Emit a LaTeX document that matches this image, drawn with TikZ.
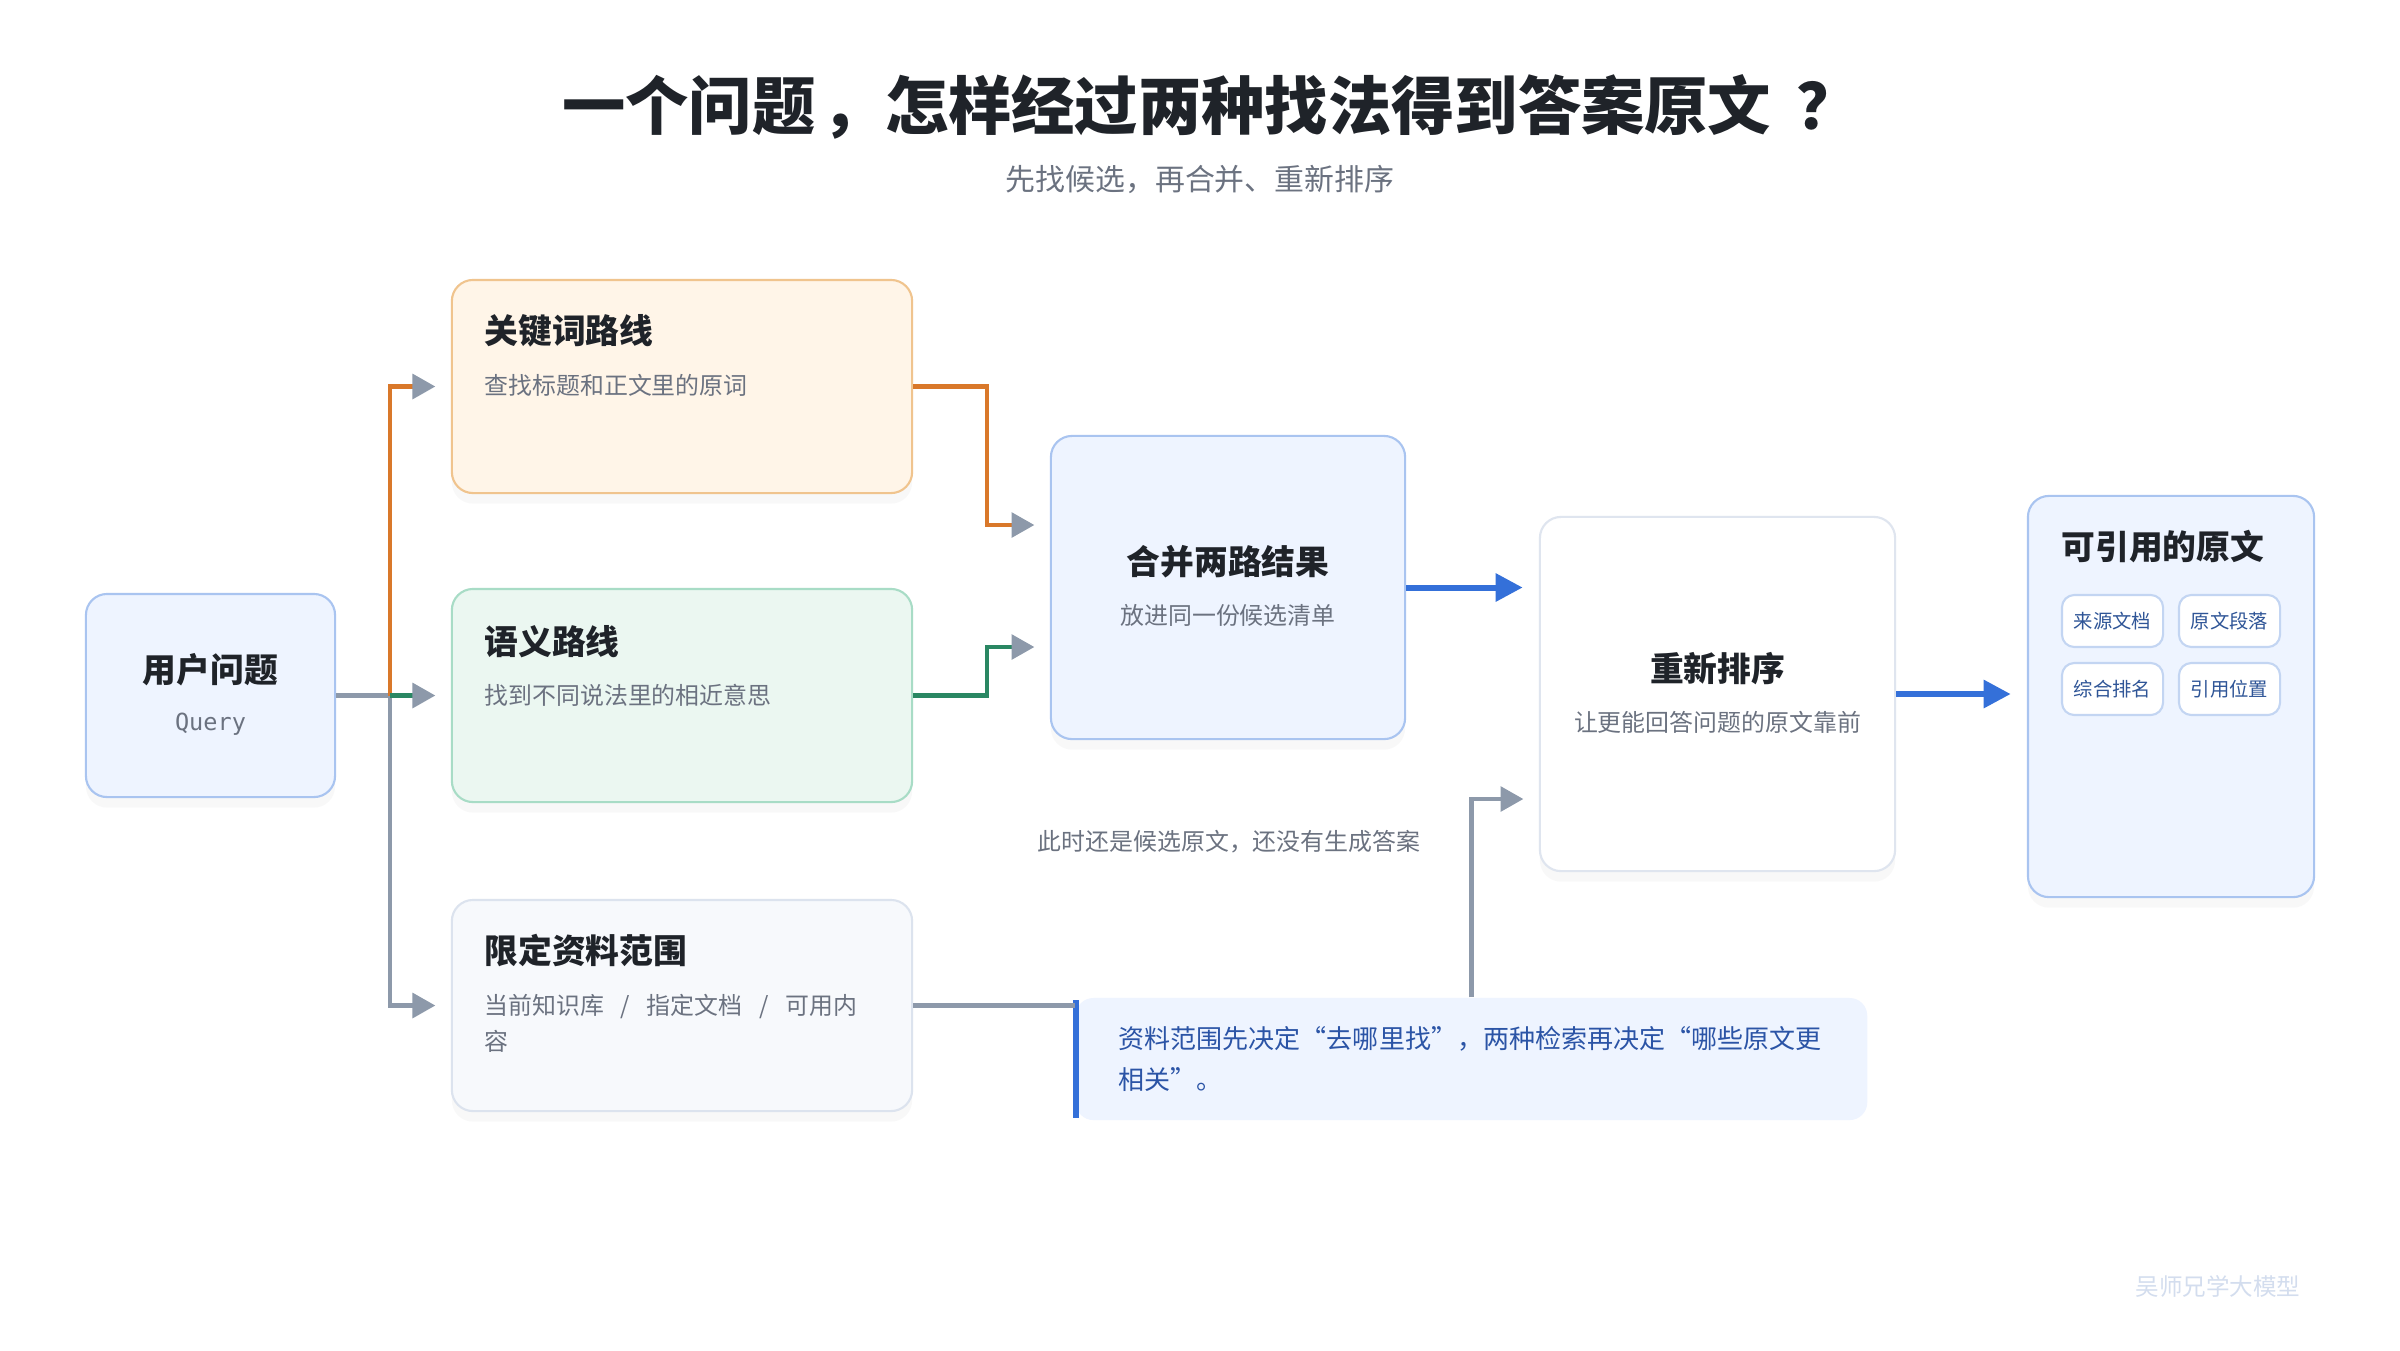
\documentclass[tikz,border=0pt]{standalone}
\usepackage{fontspec}
\setmainfont{Noto Sans CJK SC}
\newfontfamily\qmono{DejaVu Sans Mono}
\usetikzlibrary{arrows.meta,calc,positioning,shadows}
\definecolor{ink}{HTML}{1F2329}
\definecolor{muted}{HTML}{6B7280}
\definecolor{qfill}{HTML}{EEF4FF}
\definecolor{qline}{HTML}{A9C4F0}
\definecolor{kwfill}{HTML}{FFF5E8}
\definecolor{kwline}{HTML}{F0C48E}
\definecolor{semfill}{HTML}{EBF7F1}
\definecolor{semline}{HTML}{A8DCC6}
\definecolor{scfill}{HTML}{F7F9FC}
\definecolor{scline}{HTML}{DCE3EE}
\definecolor{rrline}{HTML}{DFE5EF}
\definecolor{kworange}{HTML}{D9782A}
\definecolor{semgreen}{HTML}{2A8763}
\definecolor{arrgray}{HTML}{8D99AA}
\definecolor{flowblue}{HTML}{3470D9}
\definecolor{chiptext}{HTML}{2F5597}
\definecolor{chipline}{HTML}{C3D5F2}
\definecolor{cotext}{HTML}{2B54A6}
\definecolor{wmark}{HTML}{D3DDEE}
\tikzset{card/.style={draw, line width=0.6pt, rounded corners=6pt, inner sep=0pt,
    drop shadow={shadow xshift=0pt, shadow yshift=-3pt, opacity=0.05}},
  ttl/.style={font=\fontsize{9.6}{12}\selectfont\bfseries, text=ink, inner sep=0pt},
  sub/.style={font=\fontsize{6.8}{10.2}\selectfont, text=muted, inner sep=0pt, align=left},
  pin/.style={-{Triangle[length=6.5pt, width=7pt, color=arrgray]}, line width=1.2pt, shorten >=4.4pt},
  bpin/.style={-{Triangle[length=7.7pt, width=7.7pt]}, draw=flowblue, line width=1.7pt, shorten >=4.6pt},
  chip/.style={draw=chipline, fill=white, line width=0.6pt, rounded corners=3.5pt, inner sep=0pt,
    minimum width=1.01cm, minimum height=0.52cm, text=chiptext, font=\fontsize{5.5}{7}\selectfont}}
\newcommand{\sep}{\hspace{0.7em}/\hspace{0.7em}}

\begin{document}
\begin{tikzpicture}[x=0.01cm, y=-0.01cm]
  \fill[white] (0,0) rectangle (2400,1350);
  \useasboundingbox (0,0) rectangle (2400,1350);
  % heading
  \node[font=\fontsize{18}{22}\selectfont\bfseries, text=ink] (head) at (1211,107) {一个问题\hspace{0.1em}，怎样经过两种找法得到答案原文\hspace{0.4em}？};
  \node[font=\fontsize{8.5}{10}\selectfont, text=muted] (subhead) at (1200,179) {先找候选，再合并、重新排序};
  % query
  \node[card, fill=qfill, draw=qline, minimum width=2.49cm, minimum height=2.03cm] (q) at (210.5,695.5) {};
  \node[ttl] (qt) at ($(q.center)+(0,-25.5)$) {用户问题};
  \node[font=\qmono\fontsize{6.7}{8}\selectfont, text=muted] (qs) at ($(q.center)+(0,28.5)$) {Query};
  % three retrieval cards
  \node[card, fill=kwfill, draw=kwline, minimum width=4.6cm, minimum height=2.13cm] (kw) at (682,386.5) {};
  \node[ttl, anchor=west] (kwt) at ($(kw.north west)+(33,52)$) {关键词路线};
  \node[sub, anchor=west] (kws) at ($(kw.north west)+(33,106)$) {查找标题和正文里的原词};
  \node[card, fill=semfill, draw=semline, minimum width=4.6cm, minimum height=2.13cm] (sem) at (682,695.5) {};
  \node[ttl, anchor=west] (semt) at ($(sem.north west)+(33,54)$) {语义路线};
  \node[sub, anchor=west] (sems) at ($(sem.north west)+(33,107)$) {找到不同说法里的相近意思};
  \node[card, fill=scfill, draw=scline, minimum width=4.6cm, minimum height=2.11cm] (sc) at (682,1005.5) {};
  \node[ttl, anchor=west] (sct) at ($(sc.north west)+(33,52)$) {限定资料范围};
  \node[sub, anchor=west] (scs) at ($(sc.north west)+(33,124)$) {当前知识库\sep 指定文档\sep 可用内\\容};
  % merge and rerank
  \node[card, fill=qfill, draw=qline, minimum width=3.54cm, minimum height=3.03cm] (mg) at (1228,587.5) {};
  \node[ttl] (mgt) at ($(mg.center)+(0,-25.5)$) {合并两路结果};
  \node[sub] (mgs) at ($(mg.center)+(0,27.5)$) {放进同一份候选清单};
  \node[card, fill=white, draw=rrline, minimum width=3.55cm, minimum height=3.54cm] (rr) at (1717.5,694) {};
  \node[ttl] (rrt) at ($(rr.center)+(0,-25)$) {重新排序};
  \node[sub] (rrs) at ($(rr.center)+(0,28)$) {让更能回答问题的原文靠前};
  % output
  \node[card, fill=qfill, draw=qline, minimum width=2.86cm, minimum height=4.01cm] (out) at (2171,696.5) {};
  \node[ttl, anchor=west] (outt) at ($(out.north west)+(34,52)$) {可引用的原文};
  \node[chip] (c1) at (2112.5,621) {来源文档};
  \node[chip] (c2) at (2229.5,621) {原文段落};
  \node[chip] (c3) at (2112.5,689) {综合排名};
  \node[chip] (c4) at (2229.5,689) {引用位置};
  % notes
  \node[sub] (hint) at (1229,842) {此时还是候选原文，还没有生成答案};
  \node[fill=qfill, rounded corners=5pt, minimum width=7.91cm, minimum height=1.22cm, inner sep=0pt] (co) at (1471.5,1059) {};
  \draw[line width=1.7pt, draw=flowblue] ($(co.north west)+(1,3)$) -- ($(co.south west)+(1,-3)$);
  \node[font=\fontsize{7.4}{11.7}\selectfont, text=cotext, align=left, anchor=west, inner sep=0pt] (cot) at ($(co.west)+(43,0)$) {资料范围先决定“去哪里找”，两种检索再决定“哪些原文更\\相关”。};
  \node[font=\fontsize{6.7}{8}\selectfont, text=wmark] (wm) at (2218,1286) {吴师兄学大模型};
  % fan out from the query
  \coordinate (fork) at (390,695.5);
  \draw[line width=1.2pt, draw=arrgray] (q.east) -- (fork);
  \draw[pin, draw=arrgray] (fork) |- (sc.west);
  \draw[pin, draw=kworange] (fork) |- (kw.west);
  \draw[pin, draw=semgreen] (fork) -- (sem.west);
  % into the merge
  \draw[pin, draw=kworange] (kw.east) -- ++(74,0) |- ($(mg.west)+(0,-62.5)$);
  \draw[pin, draw=semgreen] (sem.east) -- ++(74,0) |- ($(mg.west)+(0,59.5)$);
  \draw[bpin] (mg.east) -- (mg.east -| rr.west);
  \draw[bpin] (rr.east) -- (rr.east -| out.west);
  % scope feeds the rerank
  \draw[line width=1.2pt, draw=arrgray] (sc.east) -- (sc.east -| co.west);
  \draw[pin, draw=arrgray] (co.north) |- ($(rr.west)+(0,105)$);
\end{tikzpicture}
\end{document}
